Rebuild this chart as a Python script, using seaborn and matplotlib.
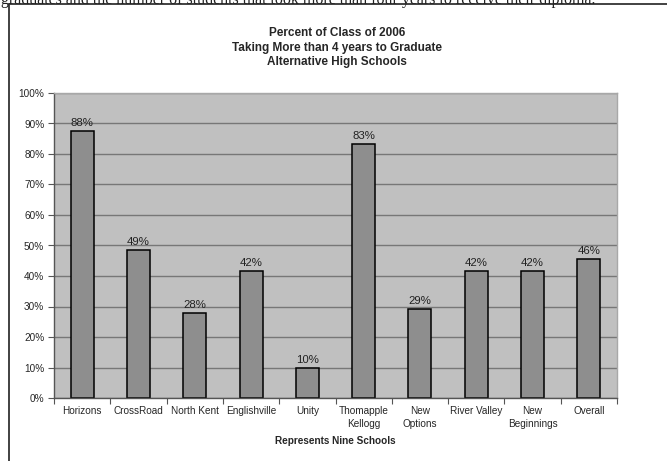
import matplotlib
matplotlib.use("Agg")
import matplotlib.pyplot as plt
from matplotlib.lines import Line2D
import seaborn as sns
import pandas as pd
import numpy as np

schools = ["Horizons", "CrossRoad", "North Kent", "Englishville", "Unity",
           "Thomapple\nKellogg", "New\nOptions", "River Valley", "New\nBeginnings", "Overall"]
percent = [87.5, 48.6, 28.0, 41.7, 10.0, 83.3, 29.2, 41.7, 41.7, 45.6]
ytick_vals = [0, 10, 20, 30, 40, 50, 60, 70, 80, 90, 100]
title_lines = ["Percent of Class of 2006", "Taking More than 4 years to Graduate", "Alternative High Schools"]
xlabel = "Represents Nine Schools"
top_text = "graduates and the number of students that took more than four years to receive their diploma."

sns.set_theme(style="white")
plt.rcParams['font.family'] = ['Liberation Sans', 'DejaVu Sans']

df = pd.DataFrame({"school": schools, "percent": percent})

fig = plt.figure(figsize=(6.67, 4.61), dpi=100)
fig.patch.set_facecolor("white")
ax = fig.add_axes([54/667, 63/461, (617-54)/667, (398-93)/461])
ax.set_facecolor("#C0C0C0")

sns.barplot(data=df, x="school", y="percent", ax=ax, color="#8E8E8E",
            edgecolor="black", linewidth=1.1, width=0.41, saturation=1)

ax.set_ylim(0, 100)
ax.set_xlim(-0.5, len(schools) - 0.5)
ax.set_yticks(ytick_vals)
ax.set_yticklabels([f"{v}%" for v in ytick_vals], fontsize=7.2)
ax.yaxis.grid(True, color="#777777", linewidth=1.0)
ax.set_axisbelow(True)

ax.set_xticks(range(len(schools)))
ax.set_xticklabels(schools, fontsize=7.2, linespacing=1.3)
ax.tick_params(axis="x", which="major", length=0, pad=6)
ax.set_xticks(np.arange(-0.5, len(schools), 1.0), minor=True)
ax.tick_params(axis="x", which="minor", length=4, color="#555555", width=0.8, direction="out", bottom=True)
ax.tick_params(axis="y", length=4, color="#555555", width=0.8, direction="out", left=True, pad=3)

for side in ["top", "right"]:
    ax.spines[side].set_color("#A8A8A8")
    ax.spines[side].set_linewidth(1.0)
for side in ["left", "bottom"]:
    ax.spines[side].set_color("#555555")
    ax.spines[side].set_linewidth(1.0)

ax.bar_label(ax.containers[0], labels=[f"{round(v)}%" for v in percent],
             padding=2, fontsize=8.2, color="#222222")

ax.set_ylabel("")
ax.set_xlabel(xlabel, fontsize=7.2, fontweight="bold", labelpad=5)

for i, line in enumerate(title_lines):
    fig.text(337/667, 1 - (33 + i * 14.5)/461, line, ha="center", va="center",
             fontsize=8.5, fontweight="bold")

# partly cut-off text at very top (as in the reference) and document frame
fig.text(1/667, 1 - 0.5/461, top_text, ha="left", va="center",
         fontsize=11.5, family=["Liberation Serif", "DejaVu Serif"], color="#222222")
fig.add_artist(Line2D([9/667, 1.0], [1 - 4.5/461, 1 - 4.5/461], transform=fig.transFigure,
                      color="#333333", linewidth=1.3))
fig.add_artist(Line2D([9/667, 9/667], [0, 1 - 4.5/461], transform=fig.transFigure,
                      color="#333333", linewidth=1.3))

fig.savefig("out.png", dpi=100)
